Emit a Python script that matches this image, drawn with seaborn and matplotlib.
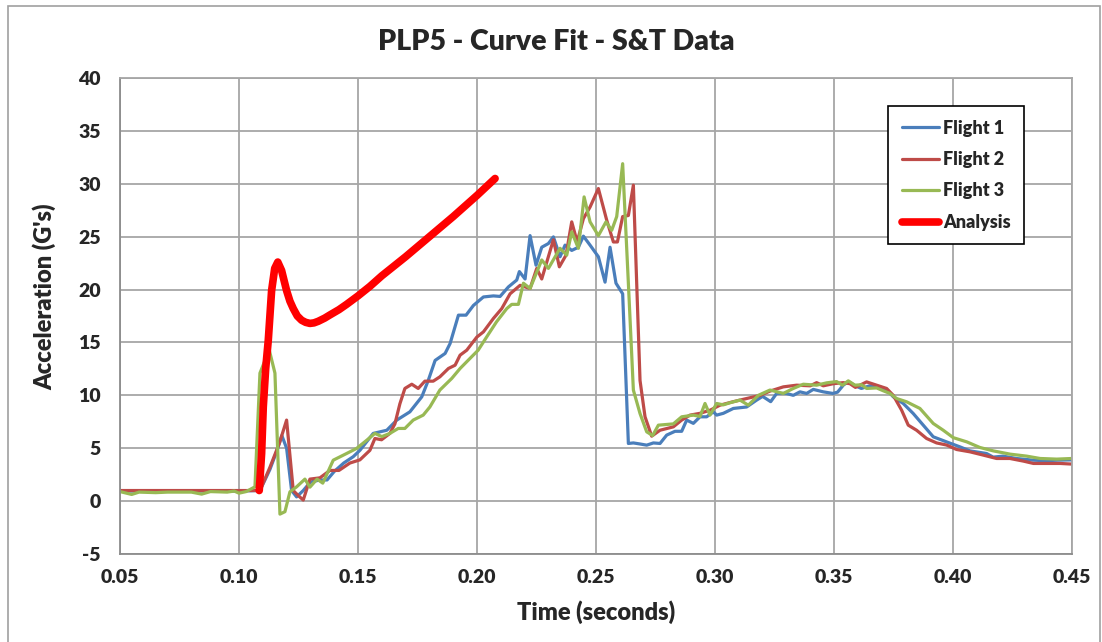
import matplotlib
matplotlib.use("Agg")
import matplotlib.pyplot as plt
import seaborn as sns
import pandas as pd
from matplotlib.ticker import MultipleLocator, FormatStrFormatter
from matplotlib.patches import Rectangle

# ---------------- data (time in s, acceleration in G) ----------------
flight1 = [
    (0.050, 0.95), (0.060, 0.95), (0.070, 0.95), (0.080, 0.95), (0.090, 0.95), (0.100, 0.95),
    (0.1088, 1.0), (0.1130, 3.0), (0.1160, 4.8), (0.1180, 6.2), (0.1200, 5.0), (0.1221, 1.0),
    (0.1242, 0.4), (0.1270, 1.0), (0.1300, 1.8), (0.1340, 2.0), (0.1370, 2.0), (0.1400, 2.8),
    (0.1440, 3.6), (0.1480, 4.2), (0.1508, 4.8), (0.1564, 6.4), (0.1621, 6.7), (0.1663, 7.66),
    (0.1718, 8.44), (0.1768, 9.86), (0.1795, 11.4), (0.1824, 13.3), (0.1866, 13.96), (0.1887, 14.9),
    (0.1922, 17.58), (0.1954, 17.58), (0.1985, 18.5), (0.2027, 19.3), (0.2069, 19.4), (0.2097, 19.35),
    (0.2132, 20.25), (0.2167, 20.9), (0.2178, 21.7), (0.2202, 21.0), (0.2223, 25.1), (0.2248, 22.3),
    (0.2272, 24.0), (0.2300, 24.35), (0.2321, 24.98), (0.2349, 23.1), (0.2370, 24.2), (0.2398, 23.7),
    (0.2426, 24.0), (0.2447, 25.05), (0.2475, 24.2), (0.2510, 23.1), (0.2538, 20.7), (0.2559, 24.0),
    (0.2584, 20.6), (0.2612, 19.6), (0.2636, 5.45), (0.2657, 5.5), (0.2685, 5.4), (0.2713, 5.29),
    (0.2741, 5.5), (0.2769, 5.45), (0.2797, 6.24), (0.2832, 6.6), (0.2860, 6.6), (0.2881, 7.66),
    (0.2909, 7.35), (0.2937, 7.97), (0.2965, 7.97), (0.2993, 8.44), (0.3007, 8.13), (0.3035, 8.3),
    (0.3077, 8.76), (0.3133, 8.9), (0.3175, 9.55), (0.3200, 9.9), (0.3234, 9.4), (0.3259, 10.18),
    (0.3300, 10.18), (0.3329, 10.0), (0.3357, 10.33), (0.3385, 10.18), (0.3413, 10.56), (0.3455, 10.33),
    (0.3495, 10.18), (0.3515, 10.3), (0.3539, 10.96), (0.3560, 11.3), (0.3590, 10.9), (0.3615, 10.65),
    (0.3650, 10.9), (0.3690, 10.8), (0.3721, 10.56), (0.3749, 9.86), (0.3791, 9.23), (0.3833, 8.28),
    (0.3875, 7.18), (0.3917, 6.08), (0.3973, 5.6), (0.4029, 5.13), (0.4071, 4.75), (0.4141, 4.5),
    (0.4169, 4.16), (0.4210, 4.25), (0.4266, 4.03), (0.4336, 3.87), (0.4392, 3.82), (0.4440, 3.87),
    (0.4500, 3.9),
]

flight2 = [
    (0.050, 1.0), (0.060, 1.0), (0.070, 1.0), (0.080, 1.0), (0.090, 1.0), (0.100, 1.0),
    (0.1088, 1.0), (0.1130, 3.2), (0.1170, 5.5), (0.1200, 7.66), (0.1228, 1.0), (0.1250, 0.5),
    (0.1270, 0.1), (0.1298, 2.08), (0.1340, 2.2), (0.1382, 2.9), (0.1420, 2.9), (0.1466, 3.6),
    (0.1508, 3.9), (0.1550, 4.8), (0.1571, 5.92), (0.1599, 5.8), (0.1634, 6.4), (0.1655, 7.3),
    (0.1676, 9.2), (0.1697, 10.65), (0.1726, 11.05), (0.1753, 10.65), (0.1781, 11.34), (0.1816, 11.34),
    (0.1844, 11.75), (0.1880, 12.54), (0.1908, 12.85), (0.1929, 13.8), (0.1957, 14.27), (0.1999, 15.5),
    (0.2027, 16.0), (0.2069, 17.27), (0.2104, 18.2), (0.2139, 19.6), (0.2181, 20.4), (0.2223, 20.1),
    (0.2251, 22.0), (0.2272, 21.0), (0.2321, 24.7), (0.2346, 22.15), (0.2374, 23.25), (0.2398, 26.4),
    (0.2421, 24.5), (0.2447, 26.7), (0.2475, 27.8), (0.2510, 29.55), (0.2545, 26.56), (0.2573, 24.5),
    (0.2590, 24.5), (0.2612, 26.9), (0.2636, 27.0), (0.2657, 29.87), (0.2671, 20.6), (0.2685, 11.4),
    (0.2706, 7.97), (0.2734, 6.14), (0.2769, 6.7), (0.2825, 7.02), (0.2860, 7.66), (0.2895, 8.13),
    (0.2937, 8.3), (0.2980, 8.6), (0.3021, 9.07), (0.3077, 9.4), (0.3133, 9.7), (0.3190, 10.0),
    (0.3231, 10.4), (0.3287, 10.8), (0.3343, 10.96), (0.3400, 10.9), (0.3427, 11.2), (0.3455, 10.9),
    (0.3497, 11.1), (0.3539, 11.2), (0.3567, 11.1), (0.3590, 10.75), (0.3637, 11.27), (0.3679, 10.96),
    (0.3721, 10.65), (0.3749, 10.0), (0.3784, 8.6), (0.3812, 7.18), (0.3847, 6.7), (0.3889, 5.92),
    (0.3931, 5.5), (0.3973, 5.3), (0.4015, 4.88), (0.4071, 4.66), (0.4127, 4.35), (0.4183, 4.03),
    (0.4239, 4.03), (0.4296, 3.78), (0.4338, 3.56), (0.4400, 3.56), (0.4450, 3.56), (0.4500, 3.5),
]

flight3 = [
    (0.050, 0.9), (0.0549, 0.63), (0.058, 0.85), (0.065, 0.8), (0.070, 0.85), (0.080, 0.85),
    (0.0843, 0.66), (0.088, 0.9), (0.095, 0.85), (0.098, 0.95), (0.100, 0.75), (0.103, 0.9),
    (0.1067, 1.35), (0.1088, 12.1), (0.1127, 14.3), (0.1151, 12.1), (0.1172, -1.23), (0.1193, -1.0),
    (0.1214, 0.88), (0.1242, 1.35), (0.1277, 2.08), (0.1298, 1.32), (0.1328, 2.08), (0.1352, 1.7),
    (0.1396, 3.87), (0.1452, 4.5), (0.1494, 4.98), (0.1537, 5.76), (0.1571, 6.4), (0.1600, 6.1),
    (0.1634, 6.4), (0.1669, 6.87), (0.1697, 6.87), (0.1732, 7.66), (0.1774, 8.13), (0.1802, 8.9),
    (0.1844, 10.5), (0.1894, 11.6), (0.1929, 12.54), (0.1971, 13.5), (0.2005, 14.27), (0.2040, 15.5),
    (0.2082, 16.95), (0.2125, 18.2), (0.2146, 18.6), (0.2174, 18.6), (0.2195, 20.6), (0.2223, 20.1),
    (0.2272, 22.8), (0.2300, 22.0), (0.2349, 23.9), (0.2377, 23.25), (0.2398, 25.45), (0.2426, 23.9),
    (0.2450, 28.76), (0.2475, 26.4), (0.2510, 25.1), (0.2542, 26.4), (0.2566, 25.6), (0.2587, 26.9),
    (0.2612, 31.9), (0.2636, 20.6), (0.2657, 10.5), (0.2685, 8.28), (0.2713, 6.55), (0.2738, 6.2),
    (0.2762, 7.18), (0.2825, 7.3), (0.2860, 7.97), (0.2909, 8.13), (0.2937, 8.0), (0.2958, 9.23),
    (0.2979, 8.13), (0.3007, 9.23), (0.3035, 9.1), (0.3063, 9.3), (0.3105, 9.55), (0.3140, 9.07),
    (0.3182, 10.0), (0.3231, 10.5), (0.3287, 10.18), (0.3329, 10.65), (0.3371, 11.05), (0.3427, 10.96),
    (0.3469, 11.18), (0.3511, 11.3), (0.3536, 10.96), (0.3560, 11.37), (0.3588, 10.96), (0.3616, 11.0),
    (0.3637, 10.65), (0.3679, 10.7), (0.3707, 10.43), (0.3735, 10.18), (0.3763, 9.7), (0.3805, 9.39),
    (0.3861, 8.76), (0.3917, 7.34), (0.3959, 6.7), (0.4001, 6.0), (0.4058, 5.6), (0.4113, 5.07),
    (0.4169, 4.75), (0.4240, 4.44), (0.4310, 4.25), (0.4366, 4.03), (0.4436, 3.97), (0.4500, 4.03),
]

analysis = [
    (0.1085, 1.0), (0.1095, 4.5), (0.1102, 8.9), (0.1112, 12.5), (0.1123, 15.2), (0.1137, 19.9),
    (0.1150, 22.0), (0.1163, 22.6), (0.1179, 21.8), (0.1190, 20.8), (0.1200, 19.9), (0.1214, 18.9),
    (0.1228, 18.2), (0.1245, 17.5), (0.1263, 17.1), (0.1280, 16.9), (0.1298, 16.8), (0.1315, 16.85),
    (0.1333, 17.0), (0.1360, 17.3), (0.1382, 17.6), (0.1420, 18.1), (0.1452, 18.6), (0.1500, 19.4),
    (0.1550, 20.3), (0.1600, 21.3), (0.1700, 23.1), (0.1800, 25.0), (0.1900, 26.9), (0.2000, 28.9),
    (0.2076, 30.5),
]

series_names = ["Flight 1", "Flight 2", "Flight 3", "Analysis"]
series_colors = ["#4A7EBB", "#BE4B48", "#98B954", "#FF0000"]
series_widths = [2.3, 2.3, 2.3, 5.5]
x_ticks_fmt = "%.2f"
title = "PLP5 - Curve Fit - S&T Data"
xlabel = "Time (seconds)"
ylabel = "Acceleration (G's)"

rows = []
for name, pts in zip(series_names, [flight1, flight2, flight3, analysis]):
    for t, g in pts:
        rows.append({"series": name, "t": t, "g": g})
df = pd.DataFrame(rows)

# ---------------- figure ----------------
sns.set_style("white")
plt.rcParams['font.family'] = ['Lato', 'DejaVu Sans']
plt.rcParams['font.weight'] = 'heavy'
plt.rcParams['axes.unicode_minus'] = False

W, H = 1102, 642
fig = plt.figure(figsize=(W / 100, H / 100), dpi=100)
fig.patch.set_facecolor("white")
ax_l, ax_r, ax_t, ax_b = 120, 1072, 78, 554
ax = fig.add_axes([ax_l / W, 1 - ax_b / H, (ax_r - ax_l) / W, (ax_b - ax_t) / H])

for name, color, lw in zip(series_names, series_colors, series_widths):
    sub = df[df["series"] == name]
    sns.lineplot(data=sub, x="t", y="g", color=color, linewidth=lw, ax=ax,
                 estimator=None, sort=False, label=name,
                 solid_capstyle="round", solid_joinstyle="round")

ax.set_xlim(0.05, 0.45)
ax.set_ylim(-5, 40)
ax.xaxis.set_major_locator(MultipleLocator(0.05))
ax.xaxis.set_minor_locator(MultipleLocator(0.01))
ax.xaxis.set_major_formatter(FormatStrFormatter(x_ticks_fmt))
ax.yaxis.set_major_locator(MultipleLocator(5))
ax.yaxis.set_minor_locator(MultipleLocator(1))

grid_c = "#a6a6a6"
ax.set_axisbelow(True)
ax.grid(True, which="major", color=grid_c, linewidth=1.3)
for s in ax.spines.values():
    s.set_color(grid_c)
    s.set_linewidth(1.3)
ax.spines["left"].set_color("#8c8c8c")
ax.spines["bottom"].set_color("#8c8c8c")

tick_fs = 14
ax.tick_params(axis="x", which="major", direction="out", length=4.5, width=1.2,
               color="#8c8c8c", pad=6, labelsize=tick_fs)
ax.tick_params(axis="x", which="minor", direction="in", length=3, width=1, color="#8c8c8c")
ax.tick_params(axis="y", which="major", direction="out", length=5, width=1.2,
               color="#8c8c8c", pad=9, labelsize=tick_fs)
ax.tick_params(axis="y", which="minor", direction="in", length=3, width=1, color="#8c8c8c")

ax.set_xlabel(xlabel, fontsize=17, fontweight="heavy")
ax.set_ylabel(ylabel, fontsize=17, fontweight="heavy")
ax.xaxis.set_label_coords(0.5, (ax_b - 600) / (ax_b - ax_t))
ax.yaxis.set_label_coords((56 - ax_l) / (ax_r - ax_l), (ax_b - 297) / (ax_b - ax_t))

fig.text(556 / W, 1 - 42 / H, title, ha="center", va="center",
         fontsize=20.5, fontweight="heavy")

leg = ax.legend(loc="upper left", bbox_to_anchor=((888 - ax_l) / (ax_r - ax_l), (ax_b - 106) / (ax_b - ax_t)),
                borderaxespad=0, frameon=True, fancybox=False, framealpha=1,
                edgecolor="black", prop={"family": "Lato", "weight": "heavy", "size": 13},
                handlelength=2.1, handletextpad=0.2, labelspacing=0.8, borderpad=0.75)
leg.get_frame().set_linewidth(1.2)

# outer chart border
fig.patches.append(Rectangle((8 / W, -0.05), (1100 - 8) / W, 1.05 - 6 / H,
                             transform=fig.transFigure, fill=False,
                             edgecolor="#a0a0a0", linewidth=1.2))

fig.savefig("out.png", dpi=100)
